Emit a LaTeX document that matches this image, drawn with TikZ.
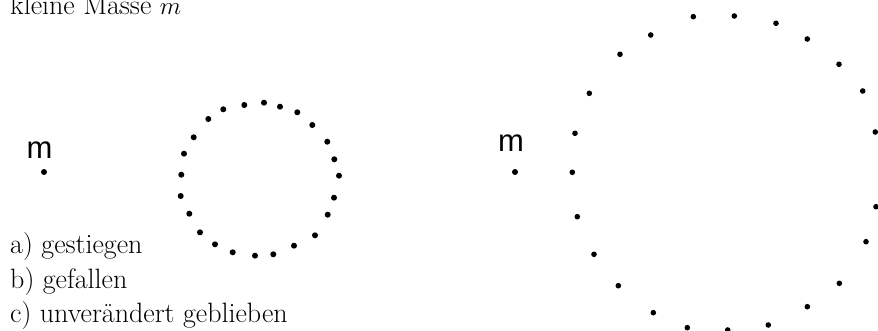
\documentclass[tikz,border=0pt]{standalone}
\usepackage{fontspec}
\newfontfamily\handfont{Liberation Sans}
\begin{document}
\begin{tikzpicture}[x=1pt,y=-1pt,
  txt/.style={anchor=base west,inner sep=0pt,font=\fontsize{28}{33}\selectfont},
  mlabel/.style={inner sep=0pt,font=\handfont\fontsize{31}{31}\selectfont},
  dotpt/.style={fill=black}]
\useasboundingbox (0,0) rectangle (878,331);

% texts
\node[txt] (title) at (10,15) {kleine Masse $m$};
\node[txt] (ansa) at (10,254) {a) gestiegen};
\node[txt] (ansb) at (10,288) {b) gefallen};
\node[txt] (ansc) at (10,322) {c) unverändert geblieben};

% small mass (left)
\node[mlabel] (m1) at (39.5,150) {m};
\fill[dotpt] (44,172) circle (3);

% small dotted circle
\foreach \p in {(264.0,102.7),(280.0,106.7),(297.3,112.3),(312.3,125.0),(327.3,141.7),(334.3,159.3),(339.0,175.7),(334.0,197.7),(327.7,214.7),(315.0,235.3),(294.0,245.7),(273.3,254.3),(255.0,255.7),(232.7,252.3),(215.0,244.3),(200.0,232.3),(189.3,213.7),(180.7,196.0),(181.3,174.7),(184.0,153.7),(193.7,137.3),(208.3,119.0),(223.3,109.3),(244.3,105.0)}
  \fill[dotpt] \p circle (3);

% small mass (right)
\node[mlabel] (m2) at (511,143) {m};
\fill[dotpt] (515,172) circle (3);

% large dotted circle
\foreach \p in {(693.3,16.7),(734.3,16.0),(776.0,23.3),(807.3,39.0),(839.0,64.3),(862.7,91.0),(875.3,132.0),(876.0,206.7),(866.0,241.7),(839.3,283.3),(807.3,306.7),(768.3,325.0),(727.7,330.0),(687.3,327.7),(653.3,312.7),(618.3,285.7),(594.0,254.3),(577.3,216.7),(572.3,172.3),(575.0,133.3),(589.3,93.3),(620.0,54.3),(650.7,35.0)}
  \fill[dotpt] \p circle (2.8);
\end{tikzpicture}
\end{document}
